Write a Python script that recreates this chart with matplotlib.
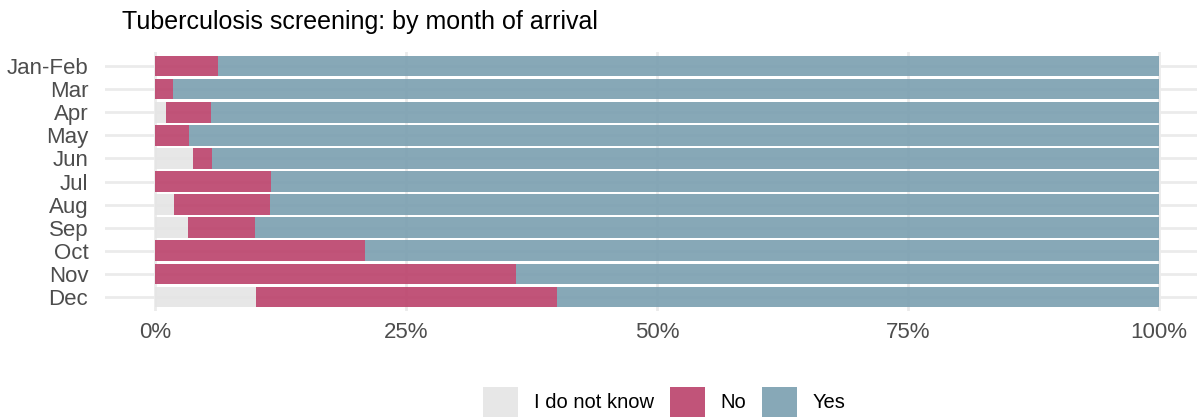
import matplotlib
matplotlib.use("Agg")
import matplotlib.pyplot as plt
from matplotlib.patches import Patch
import numpy as np

plt.rcParams['font.family'] = ['Liberation Sans', 'DejaVu Sans']

months = ["Jan-Feb", "Mar", "Apr", "May", "Jun", "Jul", "Aug", "Sep", "Oct", "Nov", "Dec"]
dont_know = [0.0, 0.0, 1.1, 0.0, 3.8, 0.0, 1.9, 3.3, 0.0, 0.0, 10.0]
no = [6.3, 1.8, 4.5, 3.4, 1.9, 11.5, 9.5, 6.6, 20.9, 36.0, 30.0]
yes = [100 - d - n for d, n in zip(dont_know, no)]
x_ticks = [0, 25, 50, 75, 100]
x_ticklabels = ["0%", "25%", "50%", "75%", "100%"]
legend_labels = ["I do not know", "No", "Yes"]

col_dk = "#E5E5E5"
col_no = "#BB416A"
col_yes = "#7A9FB0"

W, H = 1197, 418
fig = plt.figure(figsize=(W / 100, H / 100), dpi=100)
left, right = 105 / W, 1209 / W
top, bottom = 1 - 52.1 / H, 1 - 310.9 / H
ax = fig.add_axes([left, bottom, right - left, top - bottom])

y = np.arange(len(months))
dk = np.array(dont_know)
nn = np.array(no)
ys = np.array(yes)
ax.barh(y, dk, left=0, height=0.9, color=col_dk, alpha=0.9, zorder=2, linewidth=0)
ax.barh(y, nn, left=dk, height=0.9, color=col_no, alpha=0.9, zorder=2, linewidth=0)
ax.barh(y, ys, left=dk + nn, height=0.9, color=col_yes, alpha=0.9, zorder=2, linewidth=0)

ax.set_xlim(-5, 105)
ax.set_ylim(len(months) - 0.4, -0.6)
ax.set_yticks(y)
ax.set_yticklabels(months, fontsize=16, color="#4D4D4D")
ax.set_xticks(x_ticks)
ax.set_xticklabels(x_ticklabels, fontsize=16, color="#4D4D4D")
ax.tick_params(length=0, pad=8)
ax.tick_params(axis='y', pad=12)
ax.grid(True, color="#EBEBEB", linewidth=2, zorder=0)
ax.set_axisbelow(True)
for s in ax.spines.values():
    s.set_visible(False)

fig.text(122 / W, 1 - 22 / H, "Tuberculosis screening: by month of arrival",
         fontsize=18, ha="left", va="center", color="black")

handles = [Patch(facecolor=c, alpha=0.9, edgecolor="none") for c in (col_dk, col_no, col_yes)]
fig.legend(handles, legend_labels, loc="center", bbox_to_anchor=(664.5 / W, 1 - 402 / H),
           ncol=3, frameon=False, fontsize=14.5, handlelength=1.75, handleheight=1.9,
           handletextpad=0.8, columnspacing=0.75, borderpad=0, borderaxespad=0)

fig.savefig("out.png", dpi=100)
